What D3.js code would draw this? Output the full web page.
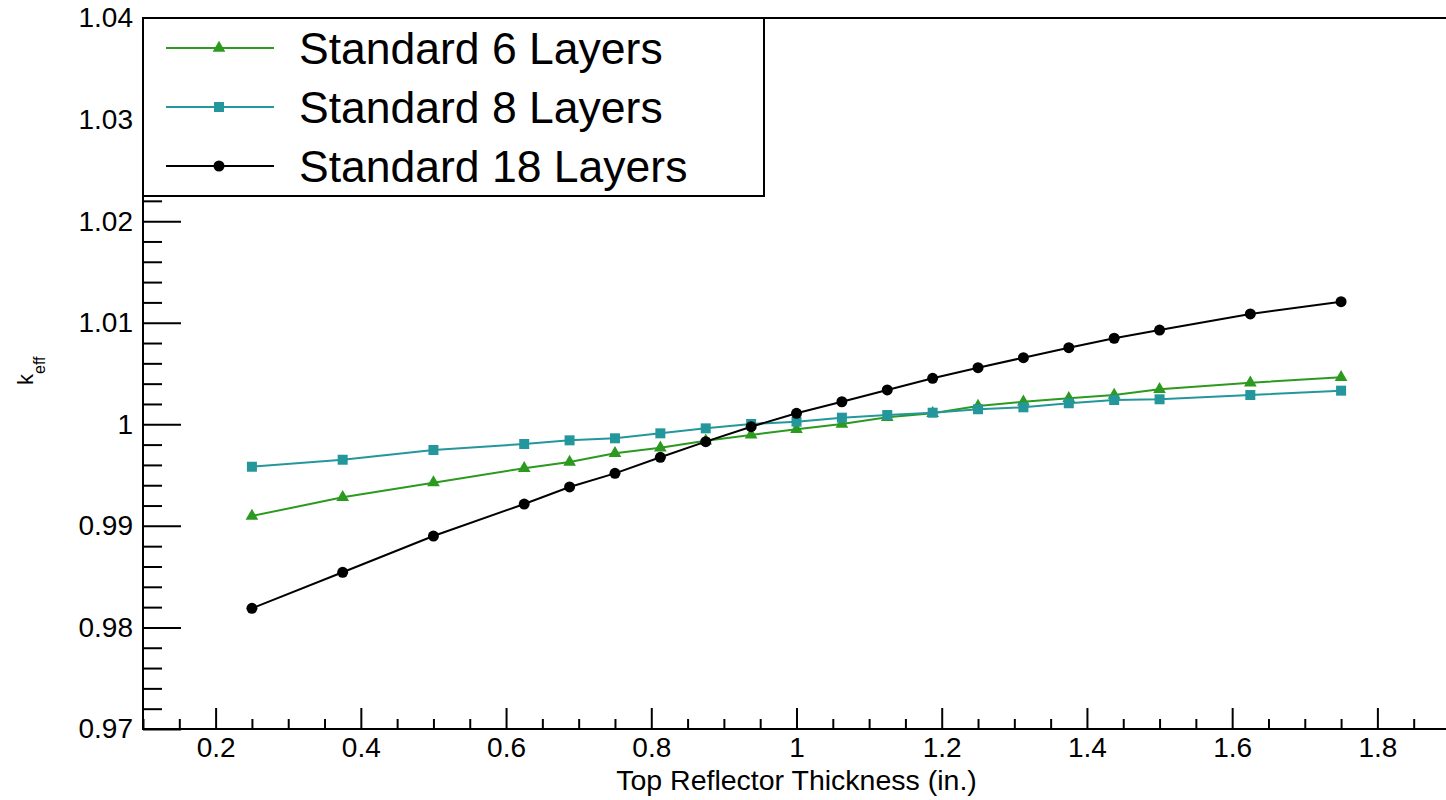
<!DOCTYPE html>
<html>
<head>
<meta charset="utf-8">
<script src="https://cdn.jsdelivr.net/npm/d3@7"></script>
<style>
  html, body { margin: 0; padding: 0; background: #fff; }
  svg { display: block; font-family: "Liberation Sans", Arial, Helvetica, sans-serif; }
</style>
</head>
<body>
<svg id="chart" width="1446" height="800"></svg>
<script>
// Top reflector thickness (in.) for each calculation
const thickness = [0.25, 0.375, 0.5, 0.625, 0.6875, 0.75, 0.8125, 0.875, 0.9375, 1.0,
                   1.0625, 1.125, 1.1875, 1.25, 1.3125, 1.375, 1.4375, 1.5, 1.625, 1.75];

// k-eff for each core configuration
const keff6 = [0.99097, 0.99281, 0.99425, 0.99567, 0.99629, 0.99714, 0.99769, 0.99838, 0.99895, 0.99951,
               1.00003, 1.00069, 1.00108, 1.00180, 1.00222, 1.00256, 1.00288, 1.00345, 1.00409, 1.00463];
const keff8 = [0.99582, 0.99651, 0.99747, 0.99806, 0.99842, 0.99862, 0.99911, 0.99960, 1.00003, 1.00026,
               1.00065, 1.00091, 1.00114, 1.00148, 1.00167, 1.00207, 1.00239, 1.00246, 1.00288, 1.00331];
const keff18 = [0.98188, 0.98543, 0.98900, 0.99215, 0.99383, 0.99517, 0.99675, 0.99829, 0.99976, 1.00108,
                1.00222, 1.00338, 1.00453, 1.00557, 1.00656, 1.00754, 1.00847, 1.00928, 1.01086, 1.01207];

const seriesNames = ["Standard 6 Layers", "Standard 8 Layers", "Standard 18 Layers"];

// Axis ticks
const xMajorTicks = [0.2, 0.4, 0.6, 0.8, 1.0, 1.2, 1.4, 1.6, 1.8];
const yMajorTicks = [0.97, 0.98, 0.99, 1.0, 1.01, 1.02, 1.03, 1.04];

const xTitle = "Top Reflector Thickness (in.)";

// ---- layout ----
const svg = d3.select("#chart");
const frame = { left: 143, right: 1450, top: 18, bottom: 729 };

const x = d3.scaleLinear().domain([0.1, 1.9]).range([frame.left, frame.right]);
const y = d3.scaleLinear().domain([0.97, 1.04]).range([frame.bottom, frame.top]);

const series = [
  { name: seriesNames[0], values: keff6,  color: "#2b9a1f", symbol: d3.symbolTriangle, size: 70 },
  { name: seriesNames[1], values: keff8,  color: "#23979b", symbol: d3.symbolSquare,   size: 100 },
  { name: seriesNames[2], values: keff18, color: "#000000", symbol: d3.symbolCircle,   size: 95 }
];

const fmt = d3.format("~g");

// minor tick positions
const xMinor = d3.range(0, 37).map(i => +(0.1 + i * 0.05).toFixed(4))
  .filter(v => !xMajorTicks.some(m => Math.abs(m - v) < 1e-6));
const yMinor = d3.range(0, 36).map(i => +(0.97 + i * 0.002).toFixed(4))
  .filter(v => !yMajorTicks.some(m => Math.abs(m - v) < 1e-6));

// ---- x axis (ticks point inward) ----
const gx = svg.append("g").attr("transform", `translate(0,${frame.bottom})`);
gx.append("g")
  .call(d3.axisBottom(x).tickValues(xMinor).tickSize(-10).tickFormat(""))
  .call(g => g.select(".domain").remove());
gx.append("g")
  .call(d3.axisBottom(x).tickValues(xMajorTicks).tickSize(-21).tickPadding(8).tickFormat(fmt))
  .call(g => g.select(".domain").remove())
  .call(g => g.selectAll("text").attr("font-size", 28).attr("fill", "#000")
    .attr("font-family", "'Liberation Sans', Arial, sans-serif"));
gx.selectAll("line").attr("stroke", "#000").attr("stroke-width", 2);

// ---- y axis (ticks point inward) ----
const gy = svg.append("g").attr("transform", `translate(${frame.left},0)`);
gy.append("g")
  .call(d3.axisLeft(y).tickValues(yMinor).tickSize(-19).tickFormat(""))
  .call(g => g.select(".domain").remove());
gy.append("g")
  .call(d3.axisLeft(y).tickValues(yMajorTicks).tickSize(-38).tickPadding(10).tickFormat(fmt))
  .call(g => g.select(".domain").remove())
  .call(g => g.selectAll("text").attr("font-size", 28).attr("fill", "#000")
    .attr("font-family", "'Liberation Sans', Arial, sans-serif"));
gy.selectAll("line").attr("stroke", "#000").attr("stroke-width", 2);

// ---- series ----
const line = d3.line().x((d, i) => x(thickness[i])).y(d => y(d));
series.forEach(s => {
  svg.append("path")
    .attr("d", line(s.values))
    .attr("fill", "none")
    .attr("stroke", s.color)
    .attr("stroke-width", 2);
  svg.append("g").selectAll("path")
    .data(s.values)
    .join("path")
    .attr("transform", (d, i) => `translate(${x(thickness[i])},${y(d)})`)
    .attr("d", d3.symbol().type(s.symbol).size(s.size))
    .attr("fill", s.color);
});

// ---- legend ----
const legend = svg.append("g");
legend.append("rect")
  .attr("x", frame.left).attr("y", frame.top)
  .attr("width", 621).attr("height", 178)
  .attr("fill", "#fff").attr("stroke", "#000").attr("stroke-width", 2);
const rowY = [48, 107, 166];
series.forEach((s, i) => {
  const row = legend.append("g").attr("transform", `translate(0,${rowY[i]})`);
  row.append("line").attr("x1", 166).attr("x2", 274).attr("y1", 0).attr("y2", 0)
    .attr("stroke", s.color).attr("stroke-width", 2);
  row.append("path").attr("transform", "translate(219,0)")
    .attr("d", d3.symbol().type(s.symbol).size(s.size)).attr("fill", s.color);
  row.append("text").attr("x", 299).attr("y", 0).attr("dy", "0.35em")
    .attr("font-size", 44.5).attr("fill", "#000").text(s.name);
});

// ---- frame ----
svg.append("rect")
  .attr("x", frame.left).attr("y", frame.top)
  .attr("width", frame.right - frame.left).attr("height", frame.bottom - frame.top)
  .attr("fill", "none").attr("stroke", "#000").attr("stroke-width", 2);

// ---- axis titles ----
svg.append("text")
  .attr("x", (frame.left + frame.right) / 2).attr("y", 790)
  .attr("text-anchor", "middle").attr("font-size", 28.5).attr("fill", "#000")
  .text(xTitle);

const yt = svg.append("text")
  .attr("transform", "translate(33,385) rotate(-90)")
  .attr("font-size", 22).attr("fill", "#000");
yt.append("tspan").text("k");
yt.append("tspan").attr("font-size", 16).attr("dy", 12).text("eff");
</script>
</body>
</html>
